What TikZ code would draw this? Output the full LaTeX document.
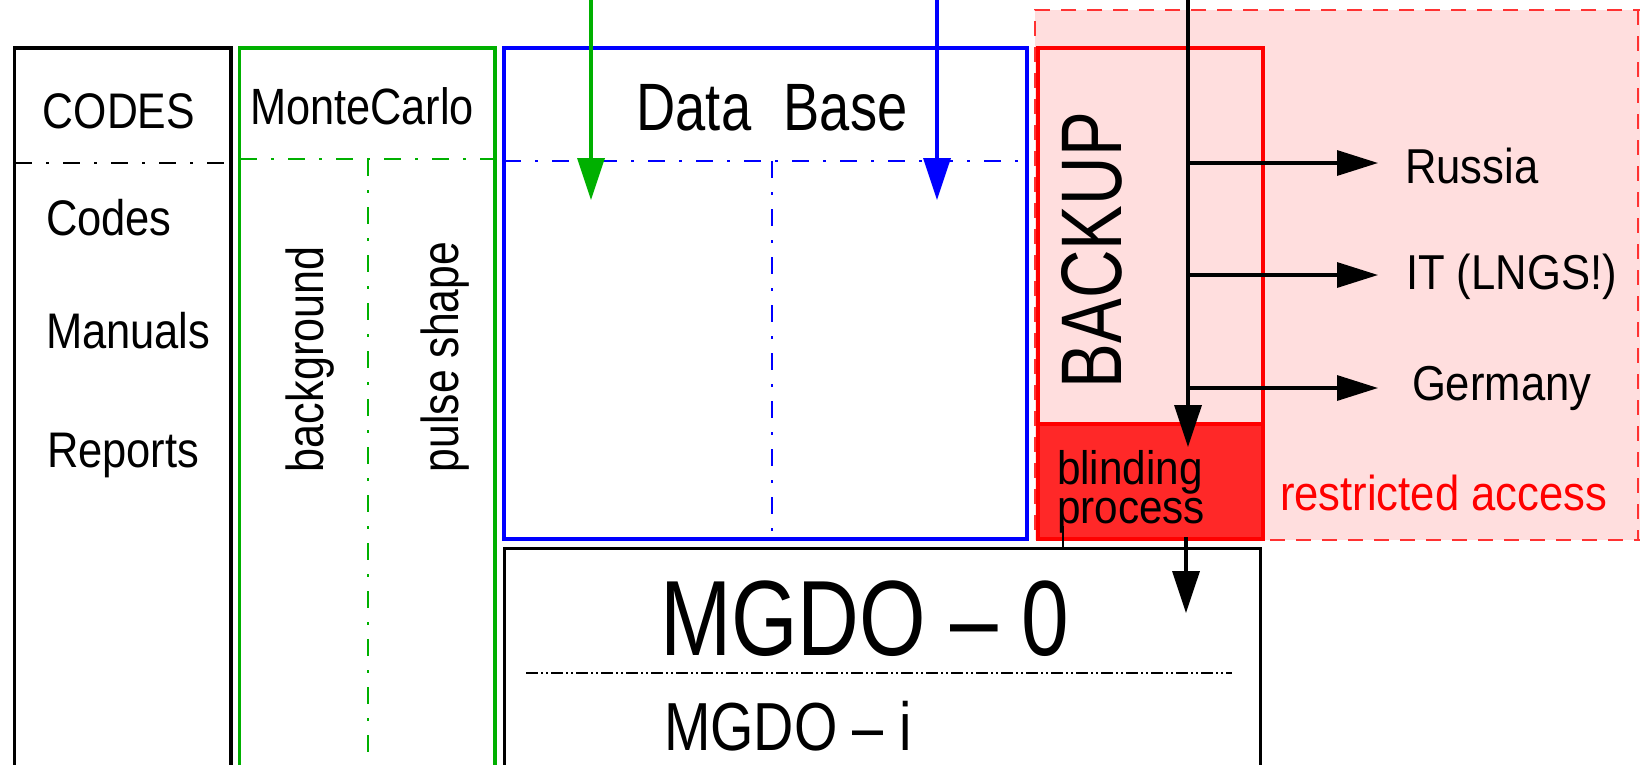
\documentclass[tikz,border=0pt]{standalone}
\usepackage{fontspec}
\setmainfont{Liberation Sans}
\usepackage{graphicx}
\usetikzlibrary{arrows.meta}
\newcommand\fsz[1]{\fontsize{#1}{#1}\selectfont}
\newcommand\tx[3]{{\fsz{#1}\scalebox{#2}[1]{#3}}}
\definecolor{mygreen}{RGB}{0,176,0}
\definecolor{pinkbg}{RGB}{255,222,222}
\definecolor{redfill}{RGB}{255,40,40}
\definecolor{dashred}{RGB}{255,50,50}
\begin{document}
\begin{tikzpicture}[x=1pt,y=-1pt,
  lbl/.style={inner sep=0pt, outer sep=0pt, anchor=base west},
  clbl/.style={inner sep=0pt, outer sep=0pt, anchor=base},
  box/.style={line width=3.5pt},
  ddot/.style={line width=1.7pt, dash pattern=on 17pt off 14pt on 3pt off 14pt},
  arrv/.style={-{Triangle[length=42pt,width=27pt]}, line width=3.5pt},
  arrh/.style={-{Triangle[length=41pt,width=25pt]}, line width=3.2pt}]
\useasboundingbox (0,0) rectangle (1640,764);
\clip (0,0) rectangle (1640,764);
% restricted access region
\path[fill=pinkbg] (1035,10) rectangle (1700,540);
\draw[dashred, line width=2pt, dash pattern=on 15pt off 11pt]
  (1700,10) -- (1035,10) -- (1035,540) -- (1700,540);
\draw[dashred, line width=1.5pt, dash pattern=on 15pt off 11pt] (1638,10) -- (1638,540);
% blinding fill
\path[fill=redfill] (1038,424) rectangle (1263,539);
% boxes
\draw[box, black] (14.5,48) rectangle (231,800);
\draw[box, mygreen] (239.5,48) rectangle (495,800);
\draw[box, blue] (504,48) rectangle (1027,539);
\draw[box, red] (1038,48) rectangle (1263,539);
\draw[red, line width=4pt] (1038,424) -- (1263,424);
\draw[line width=3pt, black] (504,548) rectangle (1260,800);
% dash-dot separators
\draw[ddot, black] (15,163) -- (231,163);
\draw[ddot, mygreen] (240,159) -- (495,159);
\draw[ddot, mygreen] (368,159) -- (368,800);
\draw[ddot, blue] (504,161) -- (1027,161);
\draw[ddot, blue] (772,161) -- (772,539);
\draw[line width=1.3pt, dash pattern=on 12pt off 3pt on 2pt off 3pt on 2pt off 3pt] (526,673) -- (1232,673);
% texts
\node[clbl] (codesT) at (119,128) {\tx{50}{0.855}{CODES}};
\node[lbl] (codes) at (46,235) {\tx{50}{0.87}{Codes}};
\node[lbl] (manuals) at (46,348) {\tx{50}{0.87}{Manuals}};
\node[lbl] (reports) at (47,467) {\tx{50}{0.87}{Reports}};
\node[lbl] (mc) at (250,124) {\tx{51}{0.85}{MonteCarlo}};
\node[lbl, rotate=90] (bg) at (323,472) {\tx{52}{0.83}{background}};
\node[lbl, rotate=90] (ps) at (458,472) {\tx{52}{0.82}{pulse shape}};
\node[clbl] (db) at (772,130) {\tx{67}{0.81}{Data\hspace{0.6em}Base}};
\node[lbl, rotate=90] (backup) at (1121,388) {\tx{86}{0.78}{BACKUP}};
\node[lbl] (russia) at (1405,183) {\tx{49}{0.89}{Russia}};
\node[lbl] (italy) at (1406,289) {\tx{49}{0.89}{IT (LNGS!)}};
\node[lbl] (germany) at (1412,400) {\tx{49}{0.89}{Germany}};
\node[inner sep=0pt, outer sep=0pt, anchor=north west, align=left, font=\fsz{47}]
  (blind) at (1057,450) {\tx{47}{0.9}{blinding}\\[-8pt]\tx{47}{0.9}{process}};
\node[lbl, text=red] (restr) at (1280,510) {\tx{49}{0.89}{restricted access}};
\node[lbl] (mgdo0) at (660,655) {\tx{107}{0.80}{MGDO -- 0}};
\node[lbl] (mgdoi) at (664,750) {\tx{68}{0.82}{MGDO -- i}};
% connectors
\coordinate (gtop) at (591,-5);
\coordinate (gend) at (591,200);
\coordinate (btop) at (937,-5);
\coordinate (bend) at (937,200);
\coordinate (ktop) at (1188,-5);
\coordinate (kend) at (1188,447);
\coordinate (k1) at (1188,163);
\coordinate (k2) at (1188,275);
\coordinate (k3) at (1188,388);
\coordinate (r1) at (1378,163);
\coordinate (r2) at (1378,275);
\coordinate (r3) at (1378,388);
\coordinate (dtop) at (1186,537);
\coordinate (dend) at (1186,613);
\coordinate (pa) at (1063,526);
\coordinate (pb) at (1063,548);
\draw[arrv, mygreen] (gtop) -- (gend);
\draw[arrv, blue] (btop) -- (bend);
\draw[arrv, black] (ktop) -- (kend);
\draw[arrh, black] (k1) -- (r1);
\draw[arrh, black] (k2) -- (r2);
\draw[arrh, black] (k3) -- (r3);
\draw[arrv, black] (dtop) -- (dend);
\draw[line width=2.5pt, black] (pa) -- (pb);
\end{tikzpicture}
\end{document}
